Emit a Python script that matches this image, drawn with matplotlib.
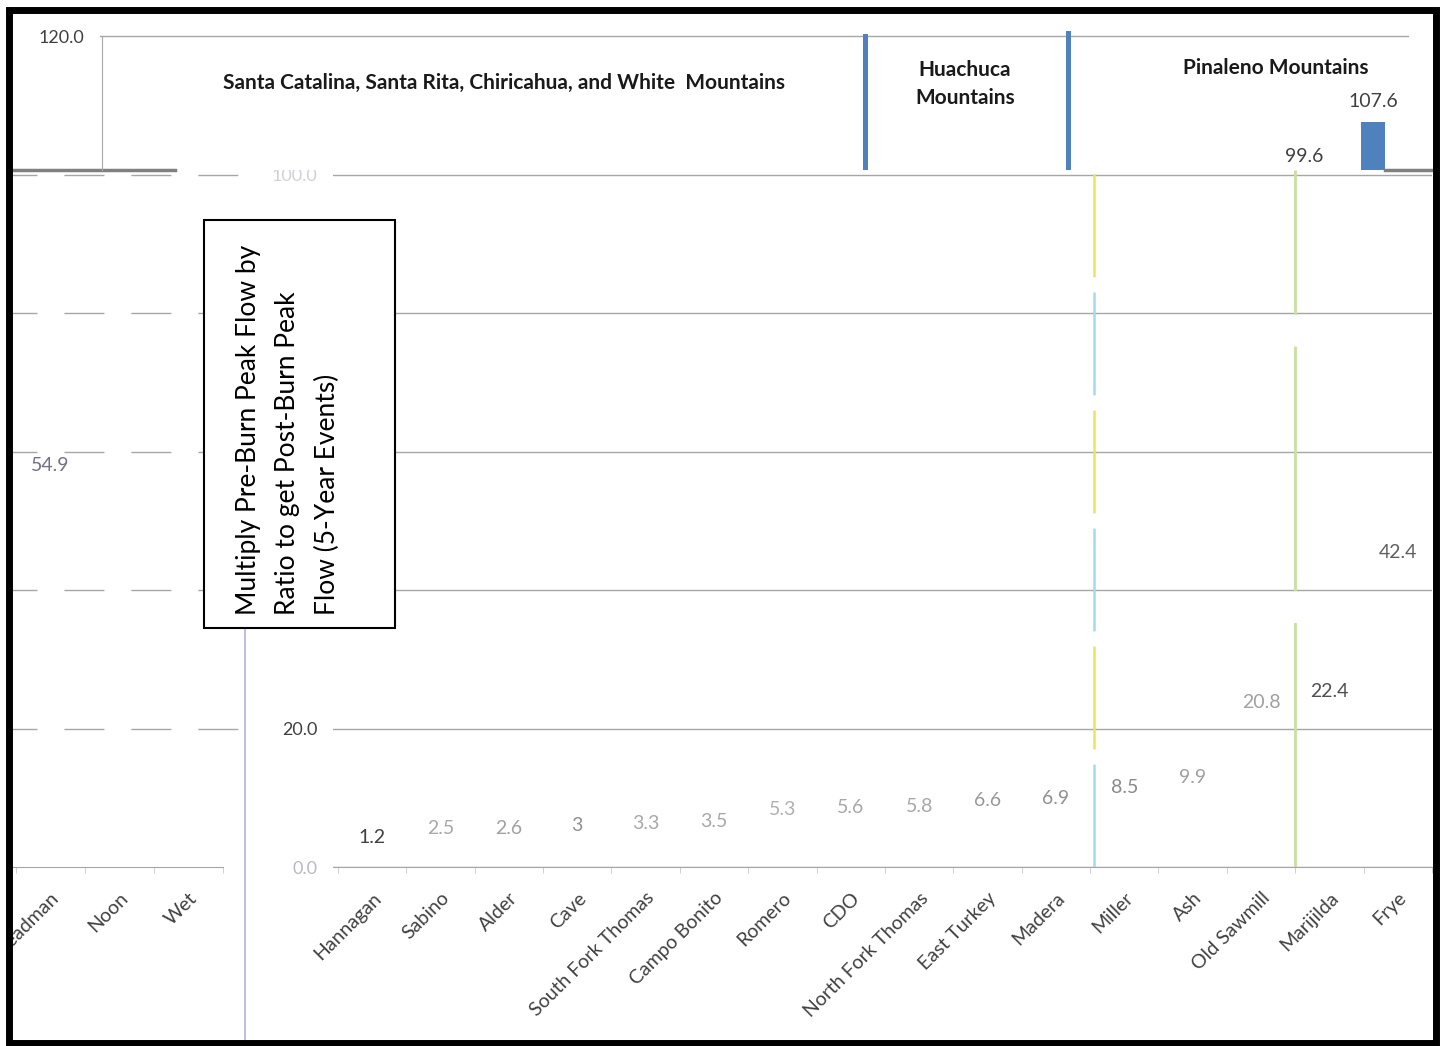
import numpy as np
import matplotlib
matplotlib.use("Agg")
import matplotlib.pyplot as plt
from matplotlib.patches import Rectangle
from matplotlib.lines import Line2D
from matplotlib.transforms import Bbox, TransformedBbox

plt.rcParams["font.family"] = ["Lato", "DejaVu Sans"]
plt.rcParams["lines.scale_dashes"] = False

# data
categories = ["Hannagan", "Sabino", "Alder", "Cave", "South Fork Thomas", "Campo Bonito",
              "Romero", "CDO", "North Fork Thomas", "East Turkey", "Madera", "Miller",
              "Ash", "Old Sawmill", "Marijilda", "Frye"]
ratios = [1.2, 2.5, 2.6, 3, 3.3, 3.5, 5.3, 5.6, 5.8, 6.6, 6.9, 8.5, 9.9, 20.8, 22.4, 42.4]
wrap_categories = ["Deadman", "Noon", "Wet"]
wrap_ratios = [54.9, np.nan, np.nan]
top_categories = ["Marijilda", "Frye"]
top_ratios = [99.6, 107.6]
regions = ["Santa Catalina, Santa Rita, Chiricahua, and White  Mountains",
           "Huachuca\nMountains", "Pinaleno Mountains"]
y_ticks = [0, 20, 40, 60, 80, 100]
y_labelled = [0, 20, 100]   # 40-80 sit behind the note box

# label shades as they come out in the picture
ratio_colors = ["#404040", "#a8a8a8", "#a0a0a0", "#909090", "#a8a8a8", "#a8a8a8",
                "#b0b0b0", "#a8a8a8", "#a8a8a8", "#989898", "#909090", "#8a8a8a",
                "#a0a0a0", "#a0a0a0", "#505050", "#606060"]
ytick_colors = {0: "#b8b8c8", 20: "#404040", 100: "#d0d0d8"}

W, H = 1442, 1046
def box(x0, y0, x1, y1):
    return [x0 / W, 1 - y1 / H, (x1 - x0) / W, (y1 - y0) / H]

grid_c = "#a6a6a6"
blue = "#4F81BD"
ymax = 100.65

fig = plt.figure(figsize=(W / 100, H / 100), dpi=100)

# main chart
ax = fig.add_axes(box(333, 170, 1432, 867))
x = np.arange(len(categories))
ax.bar(x, ratios, width=0.5, color="none")
ax.set_xlim(-0.573, 15.41)
ax.set_ylim(0, ymax)
ax.set_yticks(y_ticks)
ax.set_yticklabels([f"{v:.1f}" if v in y_labelled else "" for v in y_ticks])
for v, lbl in zip(y_ticks, ax.get_yticklabels()):
    lbl.set_color(ytick_colors.get(v, "#c0c0c0"))
ax.grid(axis="y", color=grid_c, lw=1)
ax.set_axisbelow(True)
for s in ["top", "right", "left"]:
    ax.spines[s].set_visible(False)
ax.spines["bottom"].set_color(grid_c)
ax.set_xticks(x)
ax.set_xticklabels(categories, rotation=45, ha="right", rotation_mode="anchor",
                   fontsize=14, color="#404040")
ax.set_xticks(np.arange(-0.5, len(categories), 1), minor=True)
ax.tick_params(axis="x", which="major", length=0, pad=16)
ax.tick_params(axis="x", which="minor", length=4, color="#c8c8c8")
ax.tick_params(axis="y", length=0, pad=11, labelsize=13)
for xi, v, c in zip(x, ratios, ratio_colors):
    ax.annotate(f"{v:g}", (xi, v), xytext=(0, 15), textcoords="offset points",
                ha="center", va="center", fontsize=14, color=c)

# streaky separators at Miller and Marijilda
ax.axvline(10.55, color="#a8d8f0", lw=1.8, linestyle=(0, (74, 96)))
ax.axvline(10.55, color="#e6e660", lw=1.8, linestyle=(85, (74, 96)))
ax.axvline(13.5, color="#c8e0a0", lw=2.0, linestyle=(0, (176, 23)))

# wrapped part on the left
ax_l = fig.add_axes(box(12, 170, 245, 867))
ax_l.patch.set_visible(False)
xl = np.arange(len(wrap_categories))
ax_l.bar(xl, np.nan_to_num(wrap_ratios), width=0.5, color="none")
ax_l.set_xlim(-0.551, 2.826)
ax_l.set_ylim(0, ymax)
ax_l.set_yticks(y_ticks[1:])
ax_l.set_yticklabels([])
ax_l.tick_params(axis="y", length=0)
ax_l.grid(axis="y", color=grid_c, lw=1, linestyle=(10.8, (28.8, 19.4)))
for s in ["top", "right", "left"]:
    ax_l.spines[s].set_visible(False)
ax_l.spines["bottom"].set_color(grid_c)
ax_l.spines["bottom"].set_bounds(-0.551, 2.5)
ax_l.set_xticks(xl)
ax_l.set_xticklabels(wrap_categories, rotation=45, ha="right", rotation_mode="anchor",
                     fontsize=14, color="#404040")
ax_l.set_xticks(np.arange(-0.5, len(wrap_categories), 1), minor=True)
ax_l.tick_params(axis="x", which="major", length=0, pad=16)
ax_l.tick_params(axis="x", which="minor", length=4, color="#c8c8c8")
clip = TransformedBbox(Bbox([[12 / W, 0], [1, 1]]), fig.transFigure)
for lbl in ax_l.get_xticklabels():
    lbl.set_clip_box(clip)
    lbl.set_clip_on(True)
for xi, v in zip(xl, wrap_ratios):
    if not np.isnan(v):
        ax_l.annotate(f"{v:g}", (xi, v), xytext=(0, 15), textcoords="offset points",
                      ha="center", va="center", fontsize=14, color="#707088")

# top strip with the mountain ranges
ax_t = fig.add_axes(box(12, 14, 1432, 170))
ax_t.set_facecolor("white")
ax_t.set_xlim(-4.725, 15.855)
ax_t.set_ylim(ymax, 123.18)
xt = [categories.index(c) for c in top_categories]
ax_t.bar(xt, top_ratios, width=0.36, color=blue)
for xi, v in zip(xt, top_ratios):
    ax_t.annotate(f"{v:g}", (xi, v), xytext=(0, 15), textcoords="offset points",
                  ha="center", va="center", fontsize=14, color="#404040",
                  annotation_clip=False)
ax_t.set_xticks([])
ax_t.set_yticks([120])
ax_t.set_yticklabels(["120.0"])
ax_t.tick_params(axis="y", length=0, pad=13, labelsize=13, labelcolor="#404040")
for s in ["top", "right", "bottom"]:
    ax_t.spines[s].set_visible(False)
ax_t.spines["left"].set_position(("axes", (102 - 12) / 1420))
ax_t.spines["left"].set_bounds(ymax, 120)
ax_t.spines["left"].set_color(grid_c)
ax_t.axhline(120, xmin=(100 - 12) / 1420, xmax=(1408 - 12) / 1420, color=grid_c, lw=1)
ax_t.axhline(ymax, xmin=0, xmax=(175 - 12) / 1420, color="#808080", lw=2.5, clip_on=False)
ax_t.axhline(ymax, xmin=(1385 - 12) / 1420, xmax=1, color="#808080", lw=2.5, clip_on=False)
for fx, top in [((865 - 12) / 1420, 0.859), ((1068 - 12) / 1420, 0.878)]:
    ax_t.plot([fx, fx], [0.013, top], color=blue, lw=3.6, transform=ax_t.transAxes)
for txt, (tx, ty) in zip(regions, [(0.3465, 0.558), (0.6711, 0.551), (0.890, 0.654)]):
    ax_t.text(tx, ty, txt, transform=ax_t.transAxes, ha="center", va="center",
              fontsize=15, fontweight="bold", color="#1a1a1a", linespacing=1.55)

# note box
fig.add_artist(Rectangle((204 / W, 1 - 628 / H), (395 - 204) / W, (628 - 220) / H,
                         transform=fig.transFigure, fc="white", ec="black", lw=1.5, zorder=5))
fig.text(288 / W, 1 - 615 / H,
         "Multiply Pre-Burn Peak Flow by\nRatio to get Post-Burn Peak\nFlow (5-Year Events)",
         rotation=90, ha="center", va="bottom", multialignment="left",
         fontsize=19, linespacing=1.7, color="black", zorder=6)
fig.add_artist(Line2D([245 / W, 245 / W], [1 - 628 / H, 1 - 1040 / H],
                      transform=fig.transFigure, color="#b0b0e0", lw=1.2))

# outer frame
fig.add_artist(Rectangle((8.5 / W, 1 - 1043 / H), (1435.5 - 8.5) / W, (1043 - 9.5) / H,
                         transform=fig.transFigure, fill=False, ec="black", lw=5, zorder=10))

fig.savefig("out.png", dpi=100)
